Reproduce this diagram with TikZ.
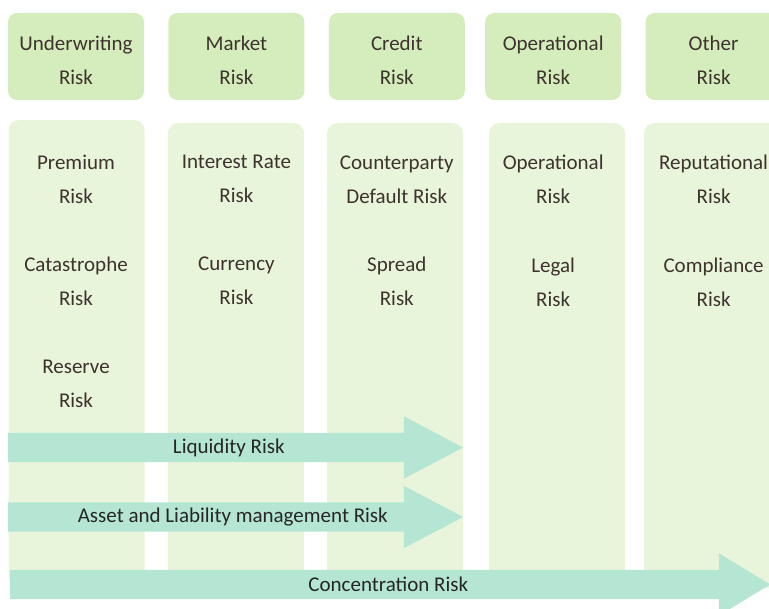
\documentclass[tikz,border=0pt]{standalone}
\usepackage{fontspec}
\setmainfont{Carlito}
\usetikzlibrary{shapes, arrows, calc, positioning}
\definecolor{hdrgreen}{RGB}{213,237,188}
\definecolor{colgreen}{RGB}{232,245,218}
\definecolor{bandteal}{RGB}{181,230,212}
\definecolor{txtbrown}{RGB}{61,51,45}
\newcommand{\hdrstrut}{\rule{0pt}{21.5pt}}

\begin{document}
\begin{tikzpicture}[x=1pt, y=-1pt,
    hdrbox/.style={fill=hdrgreen, rounded corners=9pt, minimum width=136pt, minimum height=87pt, inner sep=0pt, align=center, text=txtbrown, font=\fontsize{21}{34}\selectfont},
    colbox/.style={fill=colgreen, rounded corners=10pt, minimum width=136pt, minimum height=465pt, inner sep=0pt, anchor=north},
    item/.style={align=center, inner sep=0pt, text=txtbrown, font=\fontsize{21}{34}\selectfont},
    band/.style={single arrow, fill=bandteal, single arrow head indent=0pt, single arrow head extend=16.5pt, minimum width=62pt, anchor=tail, inner xsep=0pt, inner ysep=5pt, text height=14pt, text depth=5pt},
    bandtext/.style={inner sep=0pt, text=black!85, font=\fontsize{21}{25}\selectfont}]
        \useasboundingbox (0,0) rectangle (769,609);
        \clip (0,0) rectangle (769,609);

        % risk categories
        \node [hdrbox] (hdrUW) at (76,56.5) {\hdrstrut Underwriting\\Risk};
        \node [hdrbox, right=24pt of hdrUW] (hdrMkt) {\hdrstrut Market\\Risk};
        \node [hdrbox, right=24pt of hdrMkt] (hdrCr) {\hdrstrut Credit\\Risk};
        \node [hdrbox, right=20pt of hdrCr] (hdrOp) {\hdrstrut Operational\\Risk};
        \node [hdrbox, right=24pt of hdrOp] (hdrOth) {\hdrstrut Other\\Risk};

        % columns
        \node [colbox] (colUW) at (76.5,120) {};
        \node [colbox] (colMkt) at (236,123) {};
        \node [colbox] (colCr) at (395,123) {};
        \node [colbox] (colOp) at (557,123) {};
        \node [colbox] (colOth) at (712,123) {};

        % sub-risks
        \node [item, below=55pt of hdrUW] (premium) {Premium\\Risk};
        \node [item, below=53pt of premium] (catastrophe) {Catastrophe\\Risk};
        \node [item, below=53pt of catastrophe] (reserve) {Reserve\\Risk};
        \node [item, below=55pt of hdrMkt] (interest) {Interest Rate\\Risk};
        \node [item, below=53pt of interest] (currency) {Currency\\Risk};
        \node [item, below=55pt of hdrCr] (counterparty) {Counterparty\\Default Risk};
        \node [item, below=53pt of counterparty] (spread) {Spread\\Risk};
        \node [item, below=55pt of hdrOp] (operational) {Operational\\Risk};
        \node [item, below=53pt of operational] (legal) {Legal\\Risk};
        \node [item, below=55pt of hdrOth] (reputational) {Reputational\\Risk};
        \node [item, below=53pt of reputational] (compliance) {Compliance\\Risk};

        % cross-cutting risks
        \node [band, minimum height=455pt, single arrow tip angle=55.4] (liquidity) at (8,447.5) {};
        \node [band, minimum height=455pt, single arrow tip angle=55.4] (alm) at (8,517) {};
        \node [band, minimum height=760pt, single arrow tip angle=62.6] (concentration) at (10,584.5) {};
        \node [bandtext, xshift=-7pt] (liquiditytext) at ($(liquidity.tail)!0.5!(liquidity.tip)$) {Liquidity Risk};
        \node [bandtext, xshift=-3pt] (almtext) at ($(alm.tail)!0.5!(alm.tip)$) {Asset and Liability management Risk};
        \node [bandtext, xshift=-2pt] (concentrationtext) at ($(concentration.tail)!0.5!(concentration.tip)$) {Concentration Risk};
\end{tikzpicture}
\end{document}
